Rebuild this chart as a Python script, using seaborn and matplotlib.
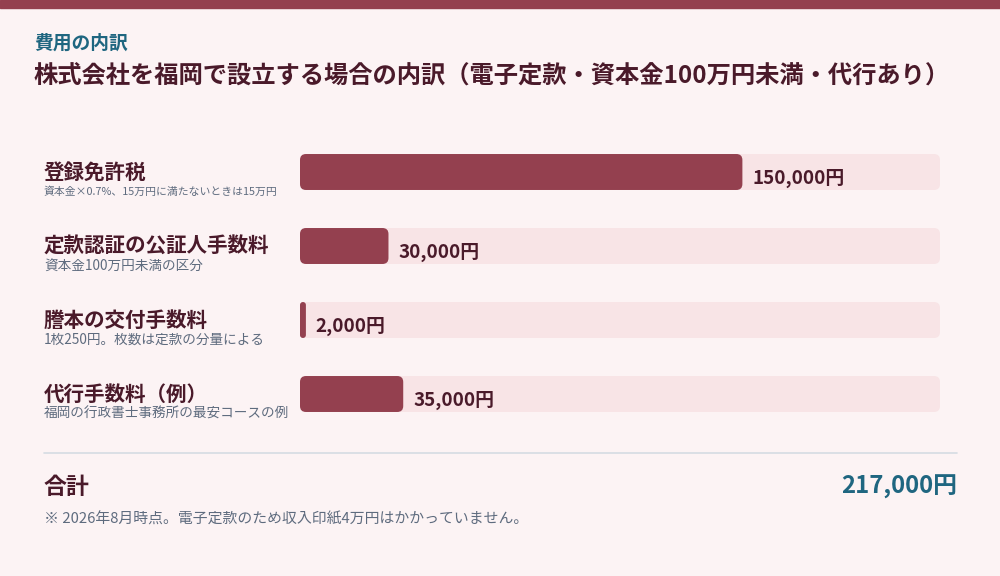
import matplotlib
matplotlib.use("Agg")
import matplotlib.pyplot as plt
import seaborn as sns
import pandas as pd
from matplotlib.patches import FancyBboxPatch

categories = ["登録免許税", "定款認証の公証人手数料", "謄本の交付手数料", "代行手数料（例）"]
subtexts = ["資本金×0.7%、15万円に満たないときは15万円", "資本金100万円未満の区分",
            "1枚250円。枚数は定款の分量による", "福岡の行政書士事務所の最安コースの例"]
values = [150000, 30000, 2000, 35000]
value_labels = ["150,000円", "30,000円", "2,000円", "35,000円"]
total = 217000
total_label = "217,000円"

sns.set_theme(style="white")
plt.rcParams['font.family'] = ['Noto Sans CJK JP', 'DejaVu Sans']
BG = "#FCF3F4"; BAR = "#94404F"; TRACK = "#F8E4E6"; DARK = "#4A1A2A"; TEAL = "#1F6680"; GRAY = "#5E6B7E"

W, H = 1000, 576
fig = plt.figure(figsize=(10, 5.76), dpi=100, facecolor=BG)
def fx(px): return px / W
def fy(py): return 1 - py / H

fig.patches.append(plt.Rectangle((0, fy(8)), 1, 8 / H, transform=fig.transFigure, color=BAR, zorder=0))
fig.text(fx(34), fy(43), "費用の内訳", color=TEAL, fontsize=13.5, fontweight="bold", va="center")
fig.text(fx(34), fy(76), "株式会社を福岡で設立する場合の内訳（電子定款・資本金100万円未満・代行あり）",
         color=DARK, fontsize=17.5, fontweight="bold", va="center")

ax = fig.add_axes([fx(300), fy(431), fx(940) - fx(300), 296 / H])
ax.set_facecolor("none")
df = pd.DataFrame({"cat": categories, "val": values, "tot": [total] * 4})
sns.barplot(data=df, y="cat", x="tot", color=TRACK, width=0.486, ax=ax, saturation=1)
sns.barplot(data=df, y="cat", x="val", color=BAR, width=0.486, ax=ax, saturation=1)
ax.set_xlim(0, total)
ax.set_ylim(3.5, -0.5)
xunit = total / 640.0
yunit = 1 / 74.0
for p in list(ax.patches):
    x, y, w, h = p.get_x(), p.get_y(), p.get_width(), p.get_height()
    fc = p.get_facecolor()
    p.remove()
    r = 6 * xunit
    if w < 2 * r:
        r = w / 2
    fb = FancyBboxPatch((x, y), w, h, boxstyle=f"round,pad=0,rounding_size={r}",
                        mutation_aspect=yunit / xunit, facecolor=fc, edgecolor="none")
    ax.add_patch(fb)
for i, (v, lab) in enumerate(zip(values, value_labels)):
    ax.text(v + 10 * xunit, i + 6 * yunit, lab, color=DARK, fontsize=13.6, fontweight="bold", va="center")
ax.axis("off")

for i, (c, s) in enumerate(zip(categories, subtexts)):
    yc = 172 + 74 * i
    fig.text(fx(44), fy(yc), c, color=DARK, fontsize=14.8, fontweight="bold", va="center")
    fig.text(fx(44), fy(yc + 20), s, color=GRAY, fontsize=7.8 if i == 0 else 9.8, va="center")

fig.add_artist(plt.Line2D([fx(44), fx(957)], [fy(453), fy(453)], color="#D5DCE3", lw=1.2, transform=fig.transFigure))
fig.text(fx(44), fy(487), "合計", color=DARK, fontsize=16.5, fontweight="bold", va="center")
fig.text(fx(957), fy(487), total_label, color=TEAL, fontsize=17.2, fontweight="bold", va="center", ha="right")
fig.text(fx(44), fy(520), "※ 2026年8月時点。電子定款のため収入印紙4万円はかかっていません。", color=GRAY, fontsize=10.7, va="center")

fig.savefig("out.png", dpi=100, facecolor=BG)
